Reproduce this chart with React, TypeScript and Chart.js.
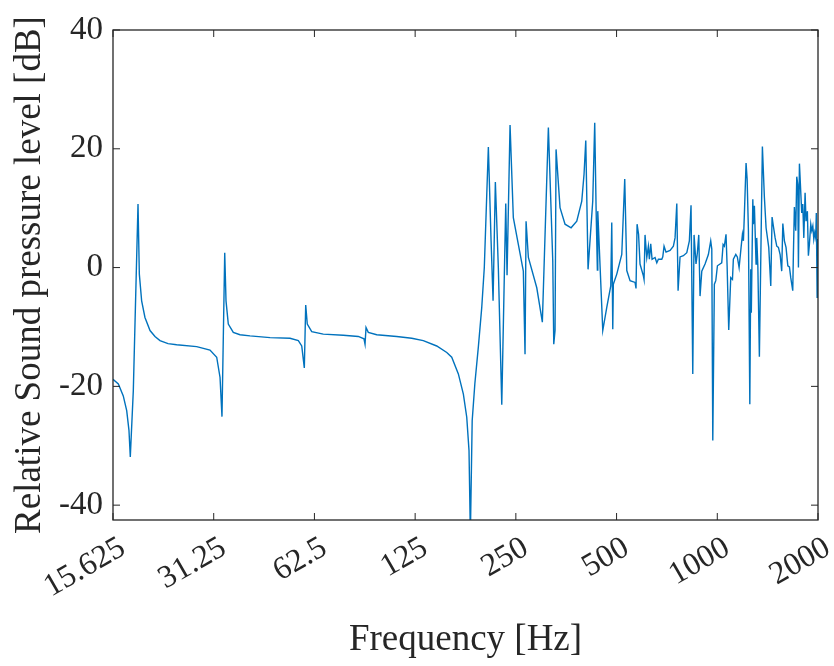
import { useEffect, useRef } from 'react';
import { Chart, registerables } from 'chart.js';

Chart.register(...registerables);

// Frequency (Hz) and relative SPL (dB)
const freqHz = [
  15.625, 16.21, 16.77, 17.17, 17.44, 17.6, 17.97, 18.56, 18.73, 19.03, // 1-10
  19.47, 20.16, 20.86, 21.59, 22.82, 24.22, 27.79, 30.46, 31.9, 32.64, // 11-20
  33.08, 33.71, 34.01, 34.55, 35.76, 37.45, 40.12, 46.05, 52.84, 55.94, // 21-30
  57.27, 58.3, 58.86, 59.5, 61.35, 66.43, 76.23, 84.53, 87.9, 88.54, // 31-40
  89.15, 90.55, 95.96, 110.1, 122.1, 132.2, 145.0, 155.4, 160.8, 168.3, // 41-50
  174.2, 178.3, 181.1, 182.8, 185.1, 188.5, 193.1, 197.7, 201.2, 206.9, // 51-60
  210.8, 213.7, 217.1, 221.6, 226.9, 233.2, 235.3, 240.2, 245.7, 254.3, // 61-70
  263.2, 266.3, 268.2, 272.5, 288.7, 300.0, 312.7, 322.3, 324.5, 327.4, // 71-80
  329.7, 338.8, 350.7, 365.6, 380.2, 393.5, 399.7, 404.5, 410.9, 424.4, // 81-90
  430.2, 434.2, 438.1, 439.3, 454.7, 467.4, 480.4, 483.7, 487.1, 489.0, // 91-100
  500.7, 518.2, 528.9, 536.4, 548.6, 567.8, 571.6, 575.8, 581.7, 587.6, // 101-110
  601.3, 604.1, 608.2, 615.6, 622.3, 626.6, 632.5, 638.4, 651.6, 659.5, // 111-120
  666.7, 682.5, 687.2, 693.3, 702.7, 722.5, 739.2, 747.8, 756.8, 763.5, // 121-130
  773.9, 791.9, 810.7, 825.2, 834.7, 844.8, 852.3, 863.8, 872.0, 880.3, // 131-140
  888.1, 898.8, 919.2, 940.5, 955.8, 962.9, 969.5, 980.1, 989.7, 1001, // 141-150
  1019, 1031, 1041, 1050, 1062, 1070, 1082, 1097, 1110, 1117, // 151-160
  1136, 1148, 1162, 1178, 1189, 1197, 1205, 1219, 1228, 1239, // 161-170
  1251, 1259, 1264, 1277, 1282, 1291, 1306, 1312, 1322, 1336, // 171-180
  1364, 1383, 1399, 1425, 1445, 1458, 1471, 1489, 1506, 1523, // 181-190
  1541, 1558, 1570, 1587, 1605, 1625, 1643, 1658, 1681, 1688, // 191-200
  1700, 1716, 1728, 1740, 1748, 1760, 1772, 1788, 1801, 1814, // 201-210
  1830, 1842, 1859, 1872, 1885, 1903, 1916, 1930, 1943, 1956, // 211-220
  1969, 1977, 1988, 1992, 2000, // 221-225
];

const splDb = [
  -18.8, -19.6, -21.6, -24.1, -27.4, -31.9, -20.7, 10.7, -1.1, -5.6, // 1-10
  -8.4, -10.6, -11.6, -12.3, -12.8, -13.0, -13.3, -13.9, -15.1, -18.5, // 11-20
  -25.1, 2.5, -5.6, -9.5, -10.9, -11.3, -11.5, -11.8, -11.9, -12.3, // 21-30
  -13.2, -16.9, -6.3, -9.5, -10.8, -11.2, -11.4, -11.6, -12.0, -12.9, // 31-40
  -10.1, -10.9, -11.3, -11.6, -11.9, -12.3, -13.2, -14.3, -15.1, -17.9, // 41-50
  -21.3, -25.2, -30.8, -45, -25.8, -19.6, -13.4, -6.7, 0, 20.3, // 51-60
  4.5, -5.6, 14.4, 0, -23.1, 10.8, -1.3, 24.0, 8.4, 3.9, // 61-70
  -0.6, -14.6, 7.8, 1.7, -3.4, -9.2, 23.6, 1.1, -12.9, -10.6, // 71-80
  19.9, 10.1, 7.3, 6.7, 7.8, 11.2, 15.7, 21.4, -0.3, 11.2, // 81-90
  24.4, 10.1, -0.4, 9.5, -10.6, -6.7, -3.1, 7.6, -10.4, -2.8, // 91-100
  -1.1, 2.2, 14.9, -0.5, -2.2, -2.5, -3.5, 7.3, 5.6, 0.6, // 101-110
  -1.4, -2.0, 5.5, 1.7, 3.6, 1.4, 4.0, 1.4, 1.7, 0.8, // 111-120
  1.4, 1.4, 1.8, 3.6, 2.6, 2.9, 3.6, 5.0, 10.8, -3.9, // 121-130
  1.8, 2.0, 2.5, 4.5, 10.5, -17.9, 5.5, 0.6, 2.5, 5.5, // 131-140
  -4.8, -0.6, 0.6, 2.2, 4.5, 3.1, -29.1, -2.8, -2.2, 0.3, // 141-150
  0.6, 0.8, 3.9, 3.6, 5.6, 0.3, -10.5, -1.7, -2.0, 1.4, // 151-160
  2.2, 1.8, 0, 3.4, 5.6, 4.5, 9.0, 17.6, 14.9, 6.2, // 161-170
  -23.0, -0.3, -7.6, 11.5, 7.3, 10.4, 0.6, 5.0, 0.3, -15.0, // 171-180
  20.4, 11.8, 6.7, 3.4, -3.1, 8.5, 7.0, 5.0, 3.6, 3.4, // 181-190
  2.2, -0.6, 7.4, 4.5, 3.4, 0.3, 0.1, -1.7, -3.9, 2.0, // 191-200
  10.2, 6.2, 15.3, 14.0, 0, 17.5, 14.0, 9.2, 10.7, 5.0, // 201-210
  12.6, 7.8, 9.5, 2.0, 3.9, 7.3, 6.2, 7.0, 4.8, 5.9, // 211-220
  5.0, 9.2, -5.0, 2.0, 4.8, // 221-225
];

const xTickValues = [15.625, 31.25, 62.5, 125, 250, 500, 1000, 2000];
const xTickLabels = ['15.625', '31.25', '62.5', '125', '250', '500', '1000', '2000'];
const yTickValues = [-40, -20, 0, 20, 40];

const FONT = '"Liberation Serif", "Times New Roman", serif';
const AXIS_COLOR = '#262626';

const framePlugin = {
  id: 'frameTicks',
  afterDatasetsDraw(chart: any) {
    const { ctx, chartArea: a, scales } = chart;
    ctx.save();
    ctx.strokeStyle = AXIS_COLOR;
    ctx.lineWidth = 1.3;
    ctx.strokeRect(a.left, a.top, a.right - a.left, a.bottom - a.top);
    const len = 7;
    ctx.lineWidth = 1;
    ctx.beginPath();
    for (const v of xTickValues) {
      const px = scales.x.getPixelForValue(v);
      ctx.moveTo(px, a.bottom);
      ctx.lineTo(px, a.bottom - len);
      ctx.moveTo(px, a.top);
      ctx.lineTo(px, a.top + len);
    }
    for (const v of yTickValues) {
      const py = scales.y.getPixelForValue(v);
      ctx.moveTo(a.left, py);
      ctx.lineTo(a.left + len, py);
      ctx.moveTo(a.right, py);
      ctx.lineTo(a.right - len, py);
    }
    ctx.stroke();
    ctx.restore();
  },
};

export default function App() {
  const canvasRef = useRef<HTMLCanvasElement | null>(null);

  useEffect(() => {
    if (!canvasRef.current) return;
    const points = freqHz.map((f, i) => ({ x: f, y: splDb[i] }));
    const chart = new Chart(canvasRef.current, {
      type: 'line',
      data: {
        datasets: [
          {
            data: points,
            borderColor: '#0072BD',
            borderWidth: 1.4,
            pointRadius: 0,
            tension: 0,
            fill: false,
          },
        ],
      },
      options: {
        animation: false,
        responsive: true,
        maintainAspectRatio: false,
        devicePixelRatio: 1,
        layout: { padding: { top: 30, right: 16, bottom: 0, left: 0 } },
        plugins: { legend: { display: false }, tooltip: { enabled: false } },
        scales: {
          x: {
            type: 'logarithmic',
            min: 15.625,
            max: 2000,
            afterBuildTicks: (s: any) => {
              s.ticks = xTickValues.map((v) => ({ value: v }));
            },
            afterFit: (s: any) => {
              s.height = 146;
              s.paddingLeft = 0;
              s.paddingRight = 0;
            },
            ticks: {
              autoSkip: false,
              minRotation: 30,
              maxRotation: 30,
              padding: 9,
              labelOffset: 10,
              color: AXIS_COLOR,
              font: { family: FONT, size: 32 },
              callback: (_v: any, i: number) => xTickLabels[i],
            },
            grid: { display: false, drawTicks: false },
            border: { display: false },
            title: {
              display: true,
              text: 'Frequency [Hz]',
              color: AXIS_COLOR,
              font: { family: FONT, size: 37 },
              padding: { top: 0, bottom: 4 },
            },
          },
          y: {
            type: 'linear',
            min: -42.5,
            max: 40,
            afterBuildTicks: (s: any) => {
              s.ticks = yTickValues.map((v) => ({ value: v }));
            },
            afterFit: (s: any) => {
              s.width = 113;
            },
            ticks: {
              padding: 10,
              color: AXIS_COLOR,
              font: { family: FONT, size: 33 },
            },
            grid: { display: false, drawTicks: false },
            border: { display: false },
            title: {
              display: true,
              text: 'Relative Sound pressure level [dB]',
              color: AXIS_COLOR,
              font: { family: FONT, size: 37 },
              padding: { top: 8, bottom: 0 },
            },
          },
        },
      },
      plugins: [framePlugin],
    });
    return () => chart.destroy();
  }, []);

  return (
    <div style={{ position: 'absolute', left: 0, top: 0, width: 834, height: 666, background: '#fff' }}>
      <canvas ref={canvasRef} />
    </div>
  );
}
